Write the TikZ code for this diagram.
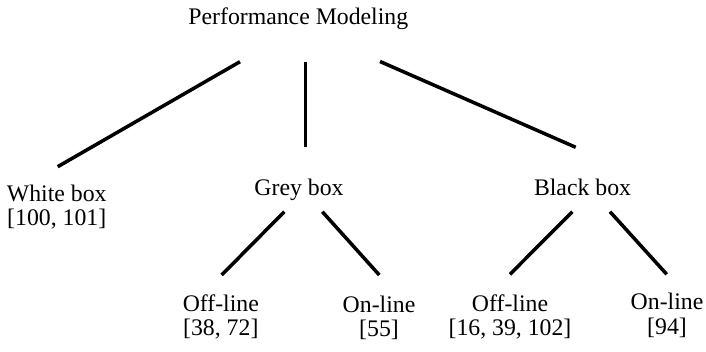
\documentclass[tikz,border=0pt]{standalone}
\usepackage{fontspec}
\setmainfont{Liberation Serif}
\usepackage{tikz}

\begin{document}
\begin{tikzpicture}[font=\fontsize{16.9}{17.1}\selectfont,
  label text/.style={align=center,anchor=base,inner sep=0pt},
  branch/.style={line width=2.5pt}]
\useasboundingbox (0,0) rectangle (17.65,8.775);
\node[label text] (pm) at (7.4575,8.15) {Performance Modeling};
\node[label text] (white) at (1.4175,3.1325) {White box\\{}[100, 101]};
\node[label text] (grey) at (7.475,3.875) {Grey box};
\node[label text] (black) at (14.5625,3.875) {Black box};
\node[label text] (greyoff) at (5.52,0.3825) {Off-line\\{}[38, 72]};
\node[label text] (greyon) at (9.475,0.3625) {On-line\\{}[55]};
\node[label text] (blackoff) at (12.75,0.3825) {Off-line\\{}[16, 39, 102]};
\node[label text] (blackon) at (16.675,0.425) {On-line\\{}[94]};
\coordinate (pm-w) at (6.0,7.2325);
\coordinate (pm-g) at (7.6375,7.2125);
\coordinate (pm-b) at (9.5,7.2375);
\coordinate (white-t) at (1.4425,4.6075);
\coordinate (grey-t) at (7.6375,5.0925);
\coordinate (black-t) at (14.3925,5.0925);
\coordinate (grey-l) at (7.1075,3.4825);
\coordinate (grey-r) at (8.0575,3.4825);
\coordinate (black-l) at (14.3075,3.4825);
\coordinate (black-r) at (15.25,3.4825);
\coordinate (greyoff-t) at (5.5425,1.9);
\coordinate (greyon-t) at (9.4825,1.9);
\coordinate (blackoff-t) at (12.75,1.9175);
\coordinate (blackon-t) at (16.6675,1.9175);
\draw[branch] (pm-w) -- (white-t);
\draw[branch] (pm-g) -- (grey-t);
\draw[branch] (pm-b) -- (black-t);
\draw[branch] (grey-l) -- (greyoff-t);
\draw[branch] (grey-r) -- (greyon-t);
\draw[branch] (black-l) -- (blackoff-t);
\draw[branch] (black-r) -- (blackon-t);
\end{tikzpicture}
\end{document}
